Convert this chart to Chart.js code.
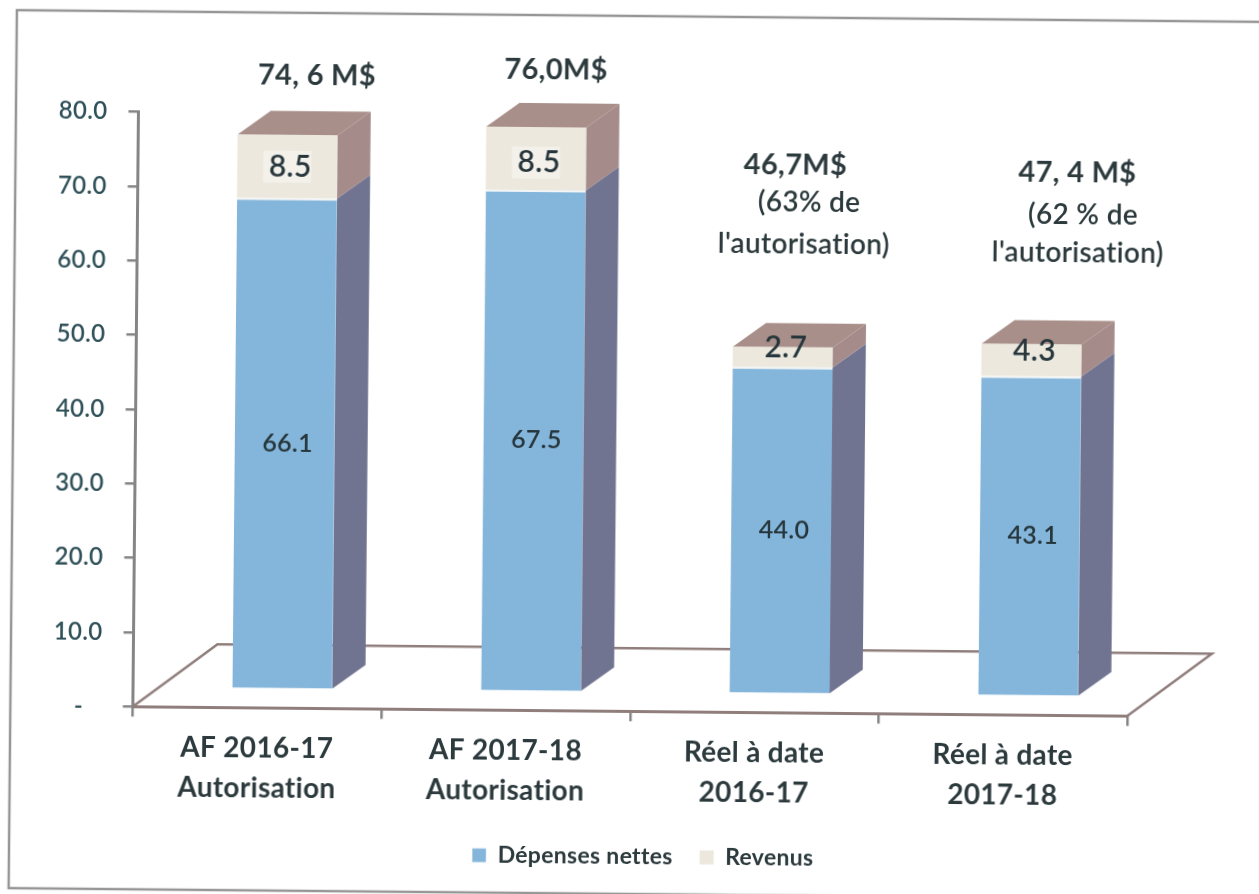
<!DOCTYPE html>
<html>
<head>
<meta charset="utf-8">
<script src="https://cdn.jsdelivr.net/npm/chart.js@4/dist/chart.umd.min.js"></script>
<style>
html, body { margin: 0; background: #fff; overflow: hidden; }
#scan { position: absolute; left: 0; top: 0; transform-origin: 0 0; transform: rotate(0.54deg); }
</style>
</head>
<body>
<canvas id="scan" width="1280" height="910"></canvas>
<script>
const categories = [["AF 2016-17", "Autorisation"], ["AF 2017-18", "Autorisation"], ["Réel à date", "2016-17"], ["Réel à date", "2017-18"]];
const depensesNettes = [66.1, 67.5, 44.0, 43.1];
const revenus = [8.5, 8.5, 2.7, 4.3];
const yTickLabels = ["-   ", "10.0", "20.0", "30.0", "40.0", "50.0", "60.0", "70.0", "80.0"];
const seriesNames = ["Dépenses nettes", "Revenus"];

// text boxes typed over the chart in the original
const notes = [
    { text: "74, 6 M$", x: 317.7, y: 73, bold: true },
    { text: "76,0M$", x: 556.7, y: 64.7, bold: true },
    { text: "46,7M$", x: 797, y: 157.5, bold: true },
    { text: "(63% de", x: 811, y: 195.4 },
    { text: "l'autorisation)", x: 806, y: 237.4 },
    { text: "47, 4 M$", x: 1079, y: 162.8, bold: true },
    { text: "(62 % de", x: 1085, y: 204.7 },
    { text: "l'autorisation)", x: 1080, y: 242.7 }
];

const FONT = "Lato, sans-serif";
const TEXT = "#2c3a3d";
const TEAL = "#2f5058";
const FLOOR = "#8f7e7c";
const AXIS = "#858585";
const BAR_DX = 25, BAR_DY = -18.5;    // bars stand in the middle of the floor
const SIDE_DX = 33, SIDE_DY = -24;    // depth of a bar
const FLOOR_DX = 84, FLOOR_DY = -63;  // depth of the floor
const SIDE_COLORS = ["#717490", "#a58c8b"];
const TOP_COLOR = "#a98f8a";

function poly(ctx, pts, color) {
    ctx.fillStyle = color;
    ctx.beginPath();
    pts.forEach((p, i) => i ? ctx.lineTo(p[0], p[1]) : ctx.moveTo(p[0], p[1]));
    ctx.closePath();
    ctx.fill();
}

const framePlugin = {
    id: "frame",
    beforeDraw(chart) {
        const c = chart.ctx;
        // a tiny spacing turns off the "ti" ligature, the original has none
        c.letterSpacing = "0.3px";
        c.save();
        c.strokeStyle = "#969696";
        c.lineWidth = 2.5;
        c.beginPath();
        c.moveTo(1290, 10);
        c.lineTo(17, 10);
        c.lineTo(17, 888);
        c.lineTo(1290, 888);
        c.stroke();
        c.restore();
    }
};

const floorPlugin = {
    id: "floor",
    beforeDatasetsDraw(chart) {
        const c = chart.ctx, a = chart.chartArea;
        c.save();
        c.strokeStyle = FLOOR;
        c.lineWidth = 2.5;
        c.beginPath();
        c.moveTo(a.left, a.bottom);
        c.lineTo(a.left + FLOOR_DX, a.bottom + FLOOR_DY);
        c.lineTo(a.right + FLOOR_DX, a.bottom + FLOOR_DY);
        c.lineTo(a.right, a.bottom);
        c.stroke();
        c.restore();

        // bars and their faces are all shifted back onto the floor
        c.save();
        c.translate(BAR_DX, BAR_DY);
        chart.data.datasets.forEach((ds, d) => {
            chart.getDatasetMeta(d).data.forEach(bar => {
                const r = bar.x + bar.width / 2, t = bar.y, b = bar.base;
                poly(c, [[r, t], [r + SIDE_DX, t + SIDE_DY], [r + SIDE_DX, b + SIDE_DY], [r, b]], SIDE_COLORS[d]);
                if (d === chart.data.datasets.length - 1) {
                    const l = bar.x - bar.width / 2;
                    poly(c, [[l, t], [l + SIDE_DX, t + SIDE_DY], [r + SIDE_DX, t + SIDE_DY], [r, t]], TOP_COLOR);
                }
            });
        });
    },
    afterDatasetsDraw(chart) {
        const c = chart.ctx;
        c.textAlign = "center";
        c.textBaseline = "middle";
        chart.data.datasets.forEach((ds, d) => {
            chart.getDatasetMeta(d).data.forEach((bar, i) => {
                const label = ds.data[i].toFixed(1);
                const h = bar.base - bar.y;
                let y = bar.y + h / 2;
                if (d === 1) {
                    c.font = "600 30px " + FONT;
                    if (h < 40) y -= 9;
                    else if (i === 1) y += 4;
                    if (h >= 40) {
                        c.fillStyle = "#f3f1ea";
                        c.fillRect(bar.x - 24, y - 16, 48, 32);
                    }
                } else {
                    c.font = "600 25px " + FONT;
                }
                c.fillStyle = "#26363c";
                c.fillText(label, bar.x + 3, y);
            });
        });
        c.restore();

        // typed notes
        c.save();
        c.textAlign = "center";
        c.textBaseline = "middle";
        c.fillStyle = TEXT;
        notes.forEach(n => {
            c.font = (n.bold ? "bold 29px " : "600 28px ") + FONT;
            c.fillText(n.text, n.x, n.y);
        });
        c.restore();
    },
    afterLayout(chart) {
        // legend is centred under the plot, not under the page
        chart.legend.left += 80;
        chart.legend.right += 80;
    }
};

new Chart(document.getElementById("scan"), {
    type: "bar",
    data: {
        labels: categories,
        datasets: [
            { label: seriesNames[0], data: depensesNettes, backgroundColor: "#84b5da", borderColor: "#f2f5f6", borderWidth: { top: 2 }, clip: false },
            { label: seriesNames[1], data: revenus, backgroundColor: "#ece8de", borderWidth: 0, clip: false }
        ]
    },
    options: {
        responsive: false,
        animation: false,
        devicePixelRatio: 1,
        layout: { padding: { left: 0, right: 146, top: 110.7, bottom: 37.7 } },
        datasets: { bar: { barPercentage: 0.402, categoryPercentage: 1 } },
        scales: {
            x: {
                stacked: true,
                grid: { drawOnChartArea: false, tickLength: 10, color: AXIS, lineWidth: 2.5 },
                border: { color: FLOOR, width: 3 },
                ticks: {
                    autoSkip: false,
                    maxRotation: 0,
                    padding: 11,
                    color: TEXT,
                    font: { family: FONT, size: 28, weight: "bold", lineHeight: 1.43 }
                },
                afterFit(s) { s.height = 107; }
            },
            y: {
                stacked: true,
                min: 0,
                max: 80,
                grid: { drawOnChartArea: false, tickLength: 10, color: AXIS, lineWidth: 2.5 },
                border: { color: AXIS, width: 3 },
                ticks: {
                    stepSize: 10,
                    padding: 21,
                    color: TEAL,
                    font: { family: FONT, size: 24, weight: "600" },
                    callback: (v, i) => yTickLabels[i]
                },
                afterFit(s) { s.width = 139.5; }
            }
        },
        plugins: {
            tooltip: { enabled: false },
            title: { display: false },
            legend: {
                position: "bottom",
                labels: {
                    boxWidth: 14,
                    boxHeight: 14,
                    padding: 27,
                    color: TEXT,
                    font: { family: FONT, size: 23, weight: "bold" }
                }
            }
        }
    },
    plugins: [framePlugin, floorPlugin]
});
</script>
</body>
</html>
